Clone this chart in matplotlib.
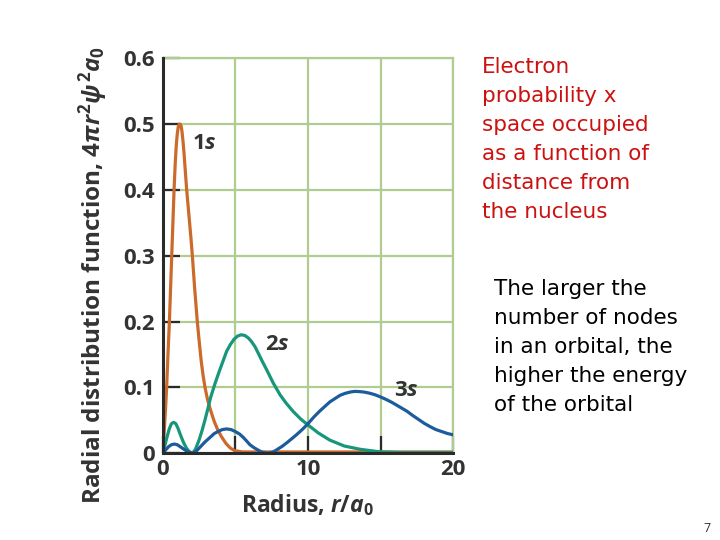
import matplotlib
matplotlib.use("Agg")
import matplotlib.pyplot as plt

# radial distribution functions (r in units of a0)
r_1s = [0, 0.06, 0.12, 0.2, 0.27, 0.36, 0.46, 0.54, 0.62, 0.7, 0.78, 0.86, 0.93,
        1.0, 1.07, 1.13, 1.2, 1.27, 1.33, 1.4, 1.47, 1.55, 1.65, 1.75, 1.85,
        1.95, 2.04, 2.2, 2.38, 2.52, 2.65, 2.78, 2.91, 3.1, 3.3, 3.55, 3.8, 4.05,
        4.35, 4.65, 4.95, 5.5, 20]
p_1s = [0, 0.015, 0.04, 0.07, 0.1, 0.15, 0.2, 0.25, 0.3, 0.35, 0.4, 0.44, 0.467,
        0.485, 0.496, 0.5, 0.5, 0.497, 0.488, 0.473, 0.455, 0.43, 0.4, 0.375,
        0.35, 0.325, 0.3, 0.25, 0.2, 0.168, 0.14, 0.118, 0.1, 0.08, 0.065, 0.048,
        0.035, 0.025, 0.015, 0.008, 0.004, 0.002, 0.002]

r_2s = [0, 0.15, 0.3, 0.45, 0.6, 0.75, 0.9, 1.05, 1.2, 1.4, 1.6, 1.8, 2.05, 2.25,
        2.5, 2.7, 2.9, 3.1, 3.3, 3.6, 3.9, 4.15, 4.4, 4.65, 4.9, 5.15, 5.4, 5.65,
        5.9, 6.1, 6.35, 6.6, 6.8, 7.15, 7.6, 8.07, 8.5, 9.0, 9.5, 10.0, 10.7,
        11.5, 12.5, 13.6, 15, 16.5, 20]
p_2s = [0, 0.012, 0.025, 0.037, 0.045, 0.047, 0.045, 0.038, 0.029, 0.018, 0.009,
        0.003, 0, 0.006, 0.02, 0.034, 0.05, 0.067, 0.085, 0.106, 0.125, 0.14,
        0.155, 0.165, 0.173, 0.178, 0.18, 0.179, 0.175, 0.17, 0.162, 0.151,
        0.142, 0.127, 0.107, 0.089, 0.076, 0.063, 0.052, 0.043, 0.031, 0.02,
        0.011, 0.006, 0.002, 0.001, 0.001]

r_3s = [0, 0.2, 0.4, 0.6, 0.8, 1.0, 1.2, 1.4, 1.6, 1.8, 2.05, 2.3, 2.6, 2.9, 3.25,
        3.55, 3.8, 4.1, 4.4, 4.7, 5.0, 5.3, 5.55, 5.8, 6.0, 6.25, 6.47, 6.8, 7.2,
        7.6, 7.9, 8.25, 8.6, 9.2, 9.6, 10.0, 10.4, 10.8, 11.15, 11.5, 11.85,
        12.2, 12.55, 12.9, 13.2, 13.5, 13.85, 14.2, 14.6, 15, 15.4, 15.8, 16.3,
        16.8, 17.2, 17.6, 18.0, 18.4, 18.8, 19.2, 19.6, 20]
p_3s = [0, 0.005, 0.01, 0.013, 0.014, 0.013, 0.01, 0.007, 0.004, 0.002, 0, 0.003,
        0.01, 0.017, 0.024, 0.03, 0.033, 0.036, 0.037, 0.036, 0.033, 0.029,
        0.024, 0.018, 0.013, 0.009, 0.006, 0.002, 0, 0.002, 0.006, 0.011, 0.017,
        0.028, 0.036, 0.045, 0.055, 0.064, 0.071, 0.078, 0.083, 0.088, 0.091,
        0.093, 0.094, 0.0938, 0.093, 0.0915, 0.089, 0.0855, 0.0815, 0.077,
        0.0705, 0.064, 0.0575, 0.0515, 0.0455, 0.0405, 0.036, 0.033, 0.03, 0.028]

y_ticks = [0, 0.1, 0.2, 0.3, 0.4, 0.5, 0.6]
y_labels = ["0", "0.1", "0.2", "0.3", "0.4", "0.5", "0.6"]
x_ticks = [0, 5, 10, 15, 20]
x_labels = ["0", "", "10", "", "20"]

note_red = "Electron\nprobability x\nspace occupied\nas a function of\ndistance from\nthe nucleus"
note_black = "The larger the\nnumber of nodes\nin an orbital, the\nhigher the energy\nof the orbital"

plt.rcParams['font.family'] = ['Open Sans', 'DejaVu Sans']
plt.rcParams['mathtext.fontset'] = 'custom'
plt.rcParams['mathtext.rm'] = 'Open Sans:bold'
plt.rcParams['mathtext.it'] = 'Open Sans:italic:bold'
plt.rcParams['mathtext.bf'] = 'Open Sans:bold'

grid_c = "#b0cc90"
dark = "#2a2a2a"
txt = "#333333"

fig = plt.figure(figsize=(7.2, 5.4), dpi=100)
ax = fig.add_axes([0.226, 0.1606, 0.4036, 0.7314])

ax.plot(r_1s, p_1s, color="#cc6a2c", lw=2.3, zorder=3)
ax.plot(r_2s, p_2s, color="#17967a", lw=2.3, zorder=4)
ax.plot(r_3s, p_3s, color="#1c5c9c", lw=2.3, zorder=5)

ax.set_xlim(0, 20)
ax.set_ylim(0, 0.6)
ax.set_xticks(x_ticks)
ax.set_xticklabels(x_labels)
ax.set_yticks(y_ticks)
ax.set_yticklabels(y_labels)
ax.grid(True, color=grid_c, lw=1.6, zorder=1)
ax.set_axisbelow(True)

for s in ["top", "right"]:
    ax.spines[s].set_color(grid_c)
    ax.spines[s].set_linewidth(1.6)
for s in ["left", "bottom"]:
    ax.spines[s].set_color(dark)
    ax.spines[s].set_linewidth(2.2)
    ax.spines[s].set_zorder(6)

ax.tick_params(direction="in", length=12, width=1.6, color=dark,
               labelsize=16, labelcolor=txt)
ax.tick_params(axis="y", pad=6)
ax.tick_params(axis="x", pad=4)
for lab in ax.get_xticklabels() + ax.get_yticklabels():
    lab.set_fontweight("bold")

ax.set_ylabel(r"Radial distribution function, $4\pi r^2\psi^2 a_0$",
              fontsize=17.5, fontweight="bold", color=txt)
ax.yaxis.set_label_coords(-0.182, 0.451)
ax.set_xlabel(r"Radius, $r/a_0$", fontsize=16.5, fontweight="bold", color=txt)
ax.xaxis.set_label_coords(0.4966, -0.098)

ax.text(2.9, 0.47, r"1$s$", fontsize=16, fontweight="bold", color=txt,
        ha="center", va="center")
ax.text(7.9, 0.165, r"2$s$", fontsize=16, fontweight="bold", color=txt,
        ha="center", va="center")
ax.text(16.8, 0.096, r"3$s$", fontsize=16, fontweight="bold", color=txt,
        ha="center", va="center")

fig.text(482 / 720, 1 - 57 / 540, note_red, color="#cc1111", fontsize=15.5,
         fontfamily="DejaVu Sans", va="top", ha="left", linespacing=1.56)
fig.text(494 / 720, 1 - 279 / 540, note_black, color="black", fontsize=15.5,
         fontfamily="DejaVu Sans", va="top", ha="left", linespacing=1.56)
fig.text(707 / 720, 1 - 528 / 540, "7", color=txt, fontsize=9,
         ha="center", va="center")

fig.savefig("out.png", dpi=100, facecolor="white")
